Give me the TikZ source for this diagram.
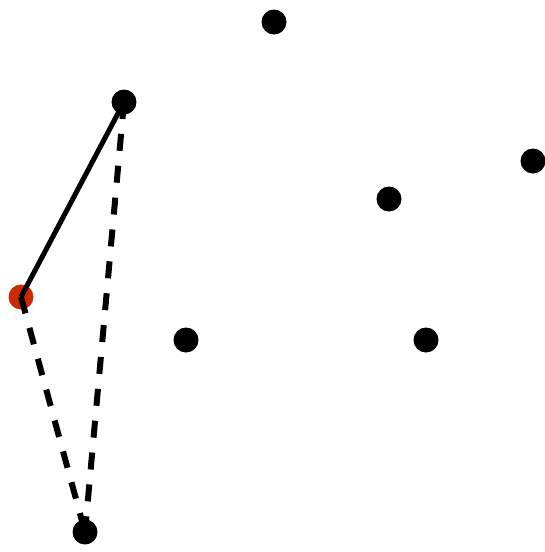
\documentclass[tikz,border=0pt]{standalone}
\usetikzlibrary{arrows.meta}
\definecolor{startred}{HTML}{CC2A00}
\tikzset{
  dot/.style={circle, fill=black, inner sep=0pt, minimum size=25pt},
  reddot/.style={dot, fill=startred},
  edge/.style={line width=5pt, black},
  dedge/.style={edge, line width=6pt, dash pattern=on 17pt off 15pt},
}
\begin{document}
\begin{tikzpicture}[x=1pt, y=-1pt]
\useasboundingbox (0,0) rectangle (545,552);
\node[dot]    (top)    at (274, 22)  {};
\node[dot]    (upl)    at (124,102)  {};
\node[dot]    (far)    at (533,161)  {};
\node[dot]    (mid)    at (389,199)  {};
\node[reddot] (start)  at ( 21,297)  {};
\node[dot]    (cenl)   at (186,340)  {};
\node[dot]    (cenr)   at (426,340)  {};
\node[dot]    (bot)    at ( 85,532)  {};
\draw[edge]  (start.center) -- (upl.center);
\draw[dedge] (upl.center) -- (bot.center);
\draw[dedge] (start.center) -- (bot.center);
\end{tikzpicture}
\end{document}
